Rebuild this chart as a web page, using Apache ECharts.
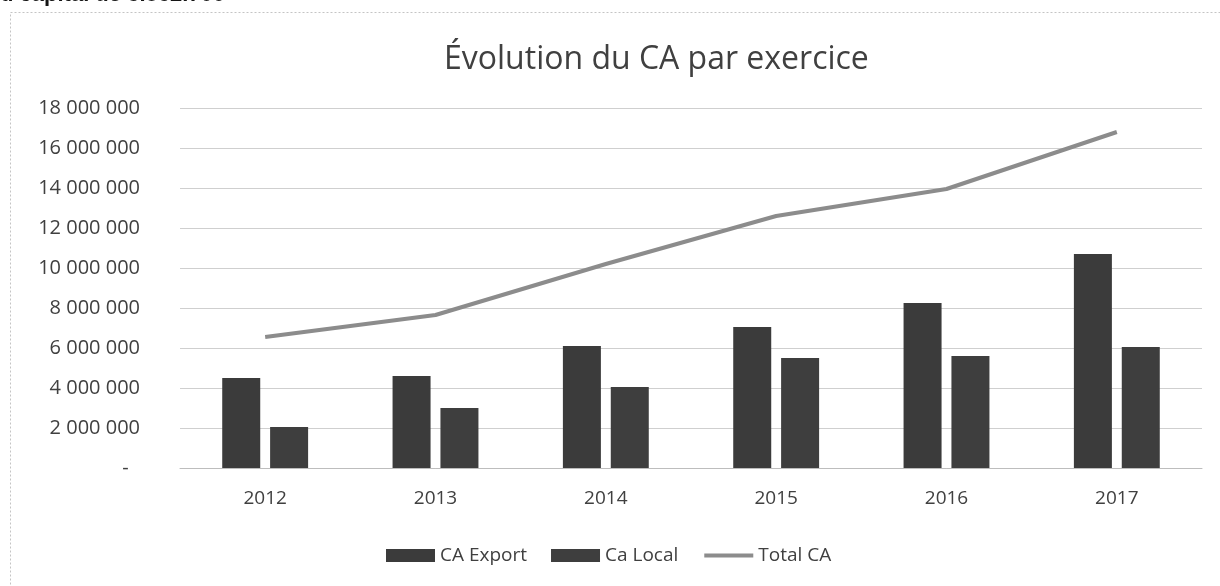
<!DOCTYPE html>
<html>
<head>
<meta charset="utf-8">
<script src="https://cdn.jsdelivr.net/npm/echarts@6/dist/echarts.min.js"></script>
<style>
  html, body { margin: 0; padding: 0; background: #fff; }
  #chart { width: 1220px; height: 586px; }
</style>
</head>
<body>
<div id="chart"></div>
<script>
// data
const years = ['2012', '2013', '2014', '2015', '2016', '2017'];
const caExport = [4500000, 4600000, 6100000, 7050000, 8250000, 10700000];
const caLocal = [2050000, 3000000, 4050000, 5500000, 5600000, 6050000];
const totalCA = [6550000, 7650000, 10200000, 12600000, 13950000, 16800000];
const yTickLabels = ['-', '2 000 000', '4 000 000', '6 000 000', '8 000 000',
  '10 000 000', '12 000 000', '14 000 000', '16 000 000', '18 000 000'];

const font = '"Open Sans", sans-serif';
const txt = '#404040';

const chart = echarts.init(document.getElementById('chart'));
chart.setOption({
  animation: false,
  title: {
    text: 'Évolution du CA par exercice',
    left: 439,
    top: 39,
    textStyle: { fontSize: 32, fontWeight: 'normal', color: txt, fontFamily: font },
  },
  graphic: [
    {
      type: 'rect',
      shape: { x: 10.5, y: 12.5, width: 1240, height: 620 },
      style: { fill: 'none', stroke: '#c4c4c4', lineWidth: 1, lineDash: [2, 2] },
      silent: true,
    },
    {
      type: 'text',
      x: 0,
      y: 6,
      style: {
        text: 'u capital de 3.862.700',
        font: 'bold 22px "Liberation Sans", sans-serif',
        fill: '#151515',
        verticalAlign: 'bottom',
      },
      silent: true,
    },
  ],
  legend: {
    left: 381,
    top: 541,
    itemWidth: 49,
    itemHeight: 13,
    itemGap: 24,
    textStyle: { fontSize: 19, color: txt, fontFamily: font },
    data: [
      { name: 'CA Export', icon: 'rect' },
      { name: 'Ca Local', icon: 'rect' },
      { name: 'Total CA', itemStyle: { opacity: 0 }, lineStyle: { width: 4 } },
    ],
  },
  grid: {
    left: 180,
    right: 18,
    top: 108,
    bottom: 118,
    containLabel: false,
  },
  xAxis: {
    type: 'category',
    data: years,
    axisTick: { show: false },
    axisLine: { lineStyle: { color: '#bdbdbd', width: 1 } },
    axisLabel: { fontSize: 19, color: txt, fontFamily: font, margin: 21 },
  },
  yAxis: {
    type: 'value',
    min: 0,
    max: 18000000,
    interval: 2000000,
    axisLine: { show: false },
    axisTick: { show: false },
    splitLine: { lineStyle: { color: '#cfcfcf', width: 1 } },
    axisLabel: {
      fontSize: 20,
      color: txt,
      fontFamily: font,
      margin: 40,
      formatter: (v) => {
        const label = yTickLabels[Math.round(v / 2000000)];
        return v === 0 ? label + '\u2007' : label;
      },
    },
  },
  series: [
    {
      name: 'CA Export',
      type: 'bar',
      barWidth: 38,
      barGap: '26%',
      itemStyle: { color: '#3b3b3b' },
      data: caExport,
    },
    {
      name: 'Ca Local',
      type: 'bar',
      barWidth: 38,
      itemStyle: { color: '#3e3e3e' },
      data: caLocal,
    },
    {
      name: 'Total CA',
      type: 'line',
      symbol: 'none',
      z: 5,
      lineStyle: { color: '#8c8c8c', width: 4 },
      itemStyle: { color: '#8c8c8c' },
      data: totalCA,
    },
  ],
});
window.addEventListener('resize', () => {
  chart.resize();
});
</script>
</body>
</html>
